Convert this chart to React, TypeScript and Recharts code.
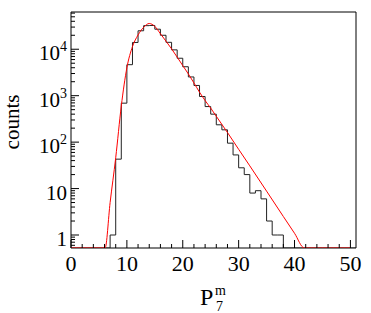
import React from "react";
import { LineChart, Line, XAxis, YAxis, ReferenceArea } from "recharts";

// histogram: unit-width bins starting at 0 (bin i covers [i, i+1])
const HIST_COUNTS = [
  0, 0, 0, 0, 0, 0, 0, 1, 43, 690, 4650, 14000, 25000, 32200, 32500, 27000,
  20000, 14100, 9700, 6400, 4200, 2530, 1660, 960, 583, 400, 236, 184, 95, 53,
  28, 20, 8, 9, 6, 2, 1, 1, 0, 0, 0, 0, 0, 0, 0, 0, 0, 0, 0, 0, 0,
];

// fitted curve
const FIT_X = [0, 6.1, 7, 8, 9, 10, 11, 12, 13, 14, 15, 16, 17, 18, 19, 20, 21, 22, 23, 24, 25, 26, 28, 30, 32, 35, 38, 40, 41.75, 50];
const FIT_Y = [0.525, 0.525, 5, 46, 600, 4000, 11400, 20300, 29700, 35900, 31000, 21600, 14900, 10200, 6760, 4450, 2940, 1880, 1190, 785, 540, 360, 161, 70, 30.8, 8.8, 2.5, 1.09, 0.525, 0.525];

const X_MAX = 51;
const Y_MIN = 0.525;
const Y_MAX = 63400;

const X_MAJOR = [0, 10, 20, 30, 40, 50];
const Y_LABELS: Record<number, [string, string?]> = {
  1: ["1"],
  10: ["10"],
  100: ["10", "2"],
  1000: ["10", "3"],
  10000: ["10", "4"],
};

const FONT = "'Liberation Serif', 'DejaVu Serif', serif";

const histData = HIST_COUNTS.map((c, i) => ({ x: i, y: Math.max(c, Y_MIN) }));
histData.push({ x: HIST_COUNTS.length, y: Y_MIN });

const fitData = FIT_X.map((x, i) => ({ x, y: FIT_Y[i] }));

const xTicks: number[] = [];
for (let v = 0; v <= 50; v += 2) xTicks.push(v);

const yTicks: number[] = [];
for (let e = -1; e <= 4; e++) {
  for (let m = 1; m <= 9; m++) {
    const v = Number((m * Math.pow(10, e)).toPrecision(6));
    if (v >= Y_MIN && v <= Y_MAX) yTicks.push(v);
  }
}

function XTick(props: any) {
  const { x, y, payload } = props;
  const major = X_MAJOR.includes(payload.value);
  return (
    <g>
      <line x1={x} x2={x} y1={y} y2={y - (major ? 8 : 4)} stroke="#000" />
      {major && (
        <text x={x} y={y + 23} textAnchor="middle" fontFamily={FONT} fontSize={22} fill="#000">
          {payload.value}
        </text>
      )}
    </g>
  );
}

function YTick(props: any) {
  const { x, y, payload } = props;
  const lbl = Y_LABELS[payload.value];
  return (
    <g>
      <line x1={x} x2={x + (lbl ? 8 : 4)} y1={y} y2={y} stroke="#000" />
      {lbl && (
        <text x={x - 4} y={y + 11} textAnchor="end" fontFamily={FONT} fontSize={21} fill="#000">
          <tspan>{lbl[0]}</tspan>
          {lbl[1] && (
            <tspan dy={-9} fontSize={14}>
              {lbl[1]}
            </tspan>
          )}
        </text>
      )}
    </g>
  );
}

function XTitle() {
  return (
    <g fontFamily={FONT} fill="#000">
      <text x={200} y={305} fontSize={24}>P</text>
      <text x={215} y={295} fontSize={14}>m</text>
      <text x={216} y={311} fontSize={14}>7</text>
    </g>
  );
}

function YTitle() {
  return (
    <text x={19} y={122} transform="rotate(-90, 19, 122)" textAnchor="middle" fontFamily={FONT} fontSize={21} fill="#000">
      counts
    </text>
  );
}

export default function App() {
  return (
    <div style={{ position: "absolute", left: 0, top: 0, width: 371, height: 313, background: "#fff" }}>
      <LineChart width={371} height={313} margin={{ top: 12, right: 15, bottom: 0, left: 0 }}>
        <XAxis
          type="number"
          dataKey="x"
          domain={[0, X_MAX]}
          ticks={xTicks}
          interval={0}
          allowDataOverflow
          axisLine={false}
          tickLine={false}
          tickSize={0}
          tickMargin={0}
          height={65}
          tick={<XTick />}
          label={<XTitle />}
        />
        <YAxis
          type="number"
          dataKey="y"
          scale="log"
          domain={[Y_MIN, Y_MAX]}
          ticks={yTicks}
          interval={0}
          allowDataOverflow
          axisLine={false}
          tickLine={false}
          tickSize={0}
          tickMargin={0}
          width={71}
          tick={<YTick />}
          label={<YTitle />}
        />
        <ReferenceArea x1={0} x2={X_MAX} y1={Y_MIN} y2={Y_MAX} fill="none" stroke="#000" ifOverflow="visible" />
        <Line
          data={histData}
          dataKey="y"
          type="stepAfter"
          stroke="#222"
          strokeWidth={1}
          dot={false}
          isAnimationActive={false}
        />
        <Line
          data={fitData}
          dataKey="y"
          type="monotone"
          stroke="#ff0000"
          strokeWidth={1}
          dot={false}
          isAnimationActive={false}
        />
      </LineChart>
    </div>
  );
}
